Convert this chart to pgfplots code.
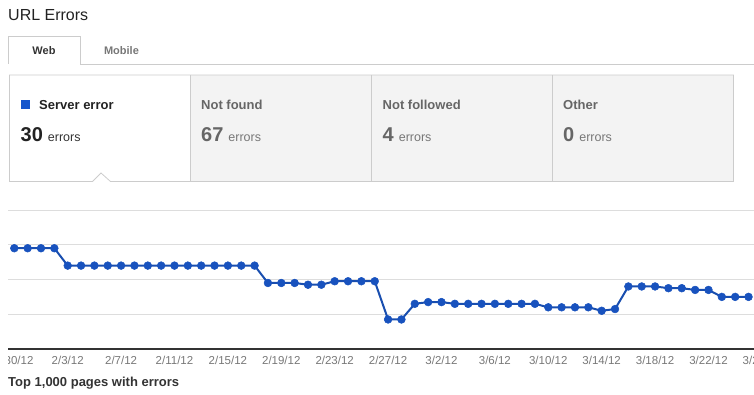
\documentclass[border=0pt]{standalone}
\usepackage{fontspec}
\setmainfont{Liberation Sans}
\usepackage{pgfplots}
\pgfplotsset{compat=1.18}
\definecolor{titlegray}{HTML}{222222}
\definecolor{bordergray}{HTML}{CCCCCC}
\definecolor{cellfill}{HTML}{F3F3F3}
\definecolor{gridgray}{HTML}{DDDDDD}
\definecolor{axisdark}{HTML}{333333}
\definecolor{tickgray}{HTML}{777777}
\definecolor{dimtext}{HTML}{666666}
\definecolor{lineblue}{RGB}{25,78,175}
\definecolor{markblue}{RGB}{24,82,190}
\definecolor{squareblue}{RGB}{21,86,204}
\pgfplotstableread{
idx val
0 58
1 58
2 58
3 58
4 48
5 48
6 48
7 48
8 48
9 48
10 48
11 48
12 48
13 48
14 48
15 48
16 48
17 48
18 48
19 38
20 38
21 38
22 37
23 37
24 39
25 39
26 39
27 39
28 17
29 17
30 26
31 27
32 27
33 26
34 26
35 26
36 26
37 26
38 26
39 26
40 24
41 24
42 24
43 24
44 22
45 23
46 36
47 36
48 36
49 35
50 35
51 34
52 34
53 30
54 30
55 30
}\servererrors
\begin{document}
\begin{tikzpicture}[x=1pt,y=1pt]
\useasboundingbox (0,0) rectangle (754,394);
% title
\node[anchor=base west,inner sep=0,text=titlegray] at (8,373) {\fontsize{16}{18}\selectfont URL Errors};
% tabs
\draw[bordergray,line width=0.8pt] (8.5,330) -- (8.5,358) -- (80.5,358) -- (80.5,330) -- (760,330);
\node[anchor=base,inner sep=0,text=axisdark] at (44,339.5) {\fontsize{11}{13}\selectfont\bfseries Web};
\node[anchor=base,inner sep=0,text=tickgray] at (121.5,339.5) {\fontsize{11}{13}\selectfont\bfseries Mobile};
% summary cells
\fill[cellfill] (190.5,212.5) rectangle (733.5,319);
\draw[bordergray,line width=0.8pt] (190.5,212.5) -- (733.5,212.5) -- (733.5,319) -- (9.5,319) -- (9.5,212.5) -- (92.5,212.5) -- (101,221) -- (110.5,212.5) -- (190.5,212.5);
\draw[bordergray,line width=0.8pt] (190.5,212.5) -- (190.5,319);
\draw[bordergray,line width=0.8pt] (371.5,212.5) -- (371.5,319);
\draw[bordergray,line width=0.8pt] (552.5,212.5) -- (552.5,319);
\fill[squareblue] (21,285) rectangle (30,294);
\node[anchor=base west,inner sep=0,text=titlegray] at (39,284) {\fontsize{13}{15}\selectfont\bfseries Server error};
\node[anchor=base west,inner sep=0,text=titlegray] at (20.5,252.3) {{\fontsize{20}{22}\selectfont\bfseries 30}\hspace{5pt}{\fontsize{12.5}{14}\selectfont\color{axisdark}errors}};
\node[anchor=base west,inner sep=0,text=dimtext] at (201,284) {\fontsize{13}{15}\selectfont\bfseries Not found};
\node[anchor=base west,inner sep=0,text=dimtext] at (201,252.3) {{\fontsize{20}{22}\selectfont\bfseries 67}\hspace{5pt}{\fontsize{12.5}{14}\selectfont\color{tickgray}errors}};
\node[anchor=base west,inner sep=0,text=dimtext] at (382.5,284) {\fontsize{13}{15}\selectfont\bfseries Not followed};
\node[anchor=base west,inner sep=0,text=dimtext] at (382.5,252.3) {{\fontsize{20}{22}\selectfont\bfseries 4}\hspace{5pt}{\fontsize{12.5}{14}\selectfont\color{tickgray}errors}};
\node[anchor=base west,inner sep=0,text=dimtext] at (563,284) {\fontsize{13}{15}\selectfont\bfseries Other};
\node[anchor=base west,inner sep=0,text=dimtext] at (563,252.3) {{\fontsize{20}{22}\selectfont\bfseries 0}\hspace{5pt}{\fontsize{12.5}{14}\selectfont\color{tickgray}errors}};
% chart
\begin{scope}
\clip (8,0) rectangle (754,394);
\begin{axis}[
  at={(8pt,45pt)}, anchor=south west,
  scale only axis, width=758pt, height=139pt,
  xmin=-0.472, xmax=56.31, ymin=0, ymax=80,
  axis x line*=bottom, axis y line*=left,
  y axis line style={draw=none},
  x axis line style={draw=axisdark,line width=1.2pt},
  ytick={20,40,60,80}, yticklabels={},
  ymajorgrids, grid style={draw=gridgray,line width=0.9pt},
  major tick length=0pt,
  xtick={0,4,...,56},
  xticklabels={1/30/12,2/3/12,2/7/12,2/11/12,2/15/12,2/19/12,2/23/12,2/27/12,3/2/12,3/6/12,3/10/12,3/14/12,3/18/12,3/22/12,3/26/12},
  xticklabel style={anchor=base,yshift=-15pt,text=tickgray,font=\fontsize{11.5}{13}\selectfont},
  clip=false,
]
\addplot[color=lineblue, line width=2pt, mark=*, mark size=3.9pt, mark options={solid,fill=markblue,draw=markblue,line width=0.5pt}] table[x=idx,y=val] {\servererrors};
\end{axis}
\end{scope}
\node[anchor=base west,inner sep=0,text=axisdark] at (8,8) {\fontsize{13}{15}\selectfont\bfseries Top 1,000 pages with errors};
\end{tikzpicture}
\end{document}
